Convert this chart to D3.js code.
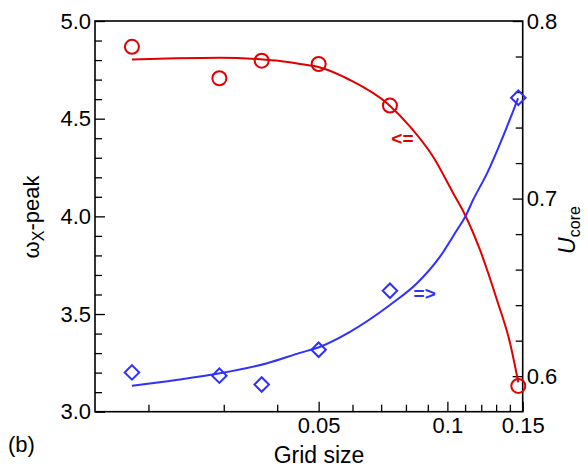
<!DOCTYPE html>
<html>
<head>
<meta charset="utf-8">
<script src="https://cdn.jsdelivr.net/npm/d3@7"></script>
<style>
  body { margin: 0; background: #fff; }
  text { font-family: "Liberation Sans", Arial, sans-serif; }
</style>
</head>
<body>
<div id="chart"></div>
<script>
// measured points
const gridSize = [0.0183, 0.0293, 0.0368, 0.0500, 0.0734, 0.1465];
const omegaPeak = [4.868, 4.707, 4.797, 4.780, 4.567, 3.132];
const uCore = [0.6021, 0.6003, 0.5953, 0.6149, 0.6481, 0.7568];

// fitted curves
const omegaFitX = [0.0183, 0.0232, 0.0294, 0.0365, 0.0406, 0.0452, 0.0504, 0.0592, 0.0726, 0.0818, 0.0926, 0.1031, 0.1100, 0.1192, 0.1306, 0.1401, 0.1465];
const omegaFitY = [4.803, 4.809, 4.812, 4.804, 4.795, 4.780, 4.762, 4.698, 4.575, 4.459, 4.305, 4.120, 4.007, 3.828, 3.572, 3.352, 3.150];
const uFitX = [0.0183, 0.0232, 0.0294, 0.0379, 0.0452, 0.0504, 0.0592, 0.0734, 0.0849, 0.0961, 0.1053, 0.1100, 0.1148, 0.1238, 0.1349, 0.1463];
const uFitY = [0.5946, 0.5978, 0.6016, 0.6073, 0.6131, 0.6166, 0.6250, 0.6401, 0.6523, 0.6673, 0.6823, 0.6896, 0.6992, 0.7142, 0.7349, 0.7565];

// ticks
const xMajor = [0.05, 0.1, 0.15];
const xMinor = [0.02, 0.03, 0.04, 0.06, 0.07, 0.08, 0.09, 0.11, 0.12, 0.13, 0.14];
const yLeftMajor = [3.0, 3.5, 4.0, 4.5, 5.0];
const yRightMajor = [0.6, 0.7, 0.8];

const red = "#e00000";
const blue = "#3030ff";

const margin = { top: 21, left: 95 };
const width = 427.7, height = 390.7;

const svg = d3.select("#chart").append("svg")
  .attr("width", 588)
  .attr("height", 470);

const g = svg.append("g")
  .attr("transform", `translate(${margin.left},${margin.top})`);

const x = d3.scaleLog().domain([0.015, 0.15]).range([0, width]);
const yL = d3.scaleLinear().domain([3.0, 5.0]).range([height, 0]);
const yR = d3.scaleLinear().domain([0.58, 0.8]).range([height, 0]);

// axes
function styleAxis(sel) {
  sel.select(".domain").remove();
  sel.selectAll("line").attr("stroke", "#000").attr("stroke-width", 1.3);
  sel.selectAll("text")
    .attr("font-family", "'Liberation Sans', Arial, sans-serif")
    .attr("font-size", 22)
    .attr("fill", "#000");
}

g.append("g")
  .attr("transform", `translate(0,${height})`)
  .call(d3.axisBottom(x).tickValues(xMinor).tickFormat("").tickSize(-7))
  .call(styleAxis);
g.append("g")
  .attr("transform", `translate(0,${height})`)
  .call(d3.axisBottom(x).tickValues(xMajor).tickFormat(d3.format("")).tickSize(-10).tickPadding(6))
  .call(styleAxis);

const yLMinor = d3.range(3.1, 5.0, 0.1).filter(v => Math.abs(v * 2 - Math.round(v * 2)) > 0.01);
g.append("g")
  .call(d3.axisLeft(yL).tickValues(yLMinor).tickFormat("").tickSize(-7))
  .call(styleAxis);
g.append("g")
  .call(d3.axisLeft(yL).tickValues(yLeftMajor).tickFormat(d3.format(".1f")).tickSize(-10).tickPadding(4))
  .call(styleAxis);

const yRMinor = d3.range(0.62, 0.8, 0.02).filter(v => Math.abs(v * 10 - Math.round(v * 10)) > 0.01);
g.append("g")
  .attr("transform", `translate(${width},0)`)
  .call(d3.axisRight(yR).tickValues(yRMinor).tickFormat("").tickSize(-7))
  .call(styleAxis);
g.append("g")
  .attr("transform", `translate(${width},0)`)
  .call(d3.axisRight(yR).tickValues(yRightMajor).tickFormat(d3.format(".1f")).tickSize(-10).tickPadding(4))
  .call(styleAxis);

// frame
g.append("rect")
  .attr("width", width)
  .attr("height", height)
  .attr("fill", "none")
  .attr("stroke", "#000")
  .attr("stroke-width", 1.6);

// fitted lines
const lineL = d3.line()
  .x(d => x(d[0]))
  .y(d => yL(d[1]))
  .curve(d3.curveMonotoneX);
const lineR = d3.line()
  .x(d => x(d[0]))
  .y(d => yR(d[1]))
  .curve(d3.curveMonotoneX);

g.append("path")
  .datum(d3.zip(omegaFitX, omegaFitY))
  .attr("d", lineL)
  .attr("fill", "none")
  .attr("stroke", red)
  .attr("stroke-width", 2);

g.append("path")
  .datum(d3.zip(uFitX, uFitY))
  .attr("d", lineR)
  .attr("fill", "none")
  .attr("stroke", blue)
  .attr("stroke-width", 2);

// markers
g.append("g").selectAll("circle")
  .data(d3.zip(gridSize, omegaPeak))
  .enter()
  .append("circle")
  .attr("cx", d => x(d[0]))
  .attr("cy", d => yL(d[1]))
  .attr("r", 7)
  .attr("fill", "none")
  .attr("stroke", red)
  .attr("stroke-width", 2);

g.append("g").selectAll("path")
  .data(d3.zip(gridSize, uCore))
  .enter()
  .append("path")
  .attr("d", d3.symbol(d3.symbolSquare, 105))
  .attr("transform", d => `translate(${x(d[0])},${yR(d[1])}) rotate(45)`)
  .attr("fill", "none")
  .attr("stroke", blue)
  .attr("stroke-width", 2);

// arrows showing which axis each series uses
g.append("text")
  .attr("x", x(0.0785))
  .attr("y", yL(4.40))
  .attr("dy", "0.35em")
  .attr("text-anchor", "middle")
  .attr("font-size", 19)
  .attr("font-weight", "bold")
  .attr("fill", red)
  .text("<=");

g.append("text")
  .attr("x", x(0.0885))
  .attr("y", yR(0.6467))
  .attr("dy", "0.35em")
  .attr("text-anchor", "middle")
  .attr("font-size", 19)
  .attr("font-weight", "bold")
  .attr("fill", blue)
  .text("=>");

// axis titles
svg.append("text")
  .attr("x", 319)
  .attr("y", 463)
  .attr("text-anchor", "middle")
  .attr("font-size", 23)
  .text("Grid size");

const lt = svg.append("text")
  .attr("transform", "translate(39,217) rotate(-90)")
  .attr("text-anchor", "middle")
  .attr("font-size", 22);
lt.append("tspan").text("ω");
lt.append("tspan").attr("font-size", 16).attr("dy", 5).text("X");
lt.append("tspan").attr("dy", -5).text("-peak");

const rt = svg.append("text")
  .attr("transform", "translate(575,230) rotate(-90)")
  .attr("text-anchor", "middle")
  .attr("font-size", 23);
rt.append("tspan").attr("font-style", "italic").text("U");
rt.append("tspan").attr("font-size", 16).attr("dy", 5).text("core");

svg.append("text")
  .attr("x", 8)
  .attr("y", 452)
  .attr("font-size", 22)
  .text("(b)");
</script>
</body>
</html>
